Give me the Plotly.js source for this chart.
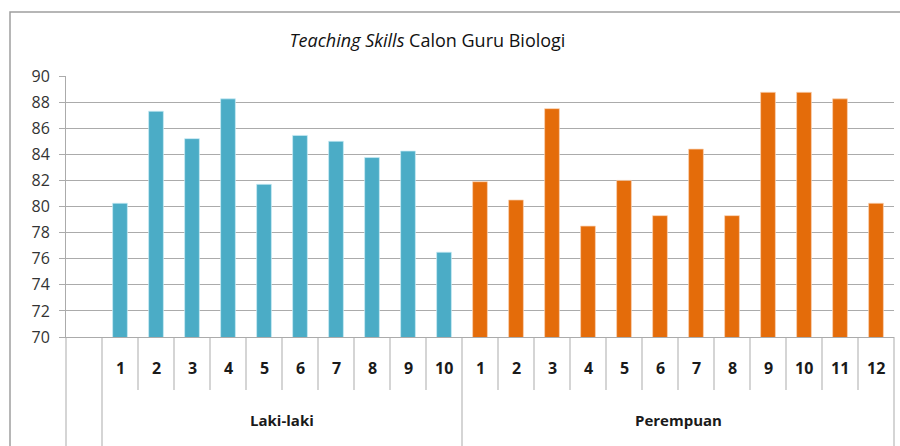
<!DOCTYPE html>
<html>
<head>
<meta charset="utf-8">
<script src="https://cdn.plot.ly/plotly-3.0.1.min.js"></script>
<style>
  html, body { margin: 0; padding: 0; background: #fff; }
  #chart { width: 900px; height: 446px; }
</style>
</head>
<body>
<div id="chart"></div>
<script>
// ---- Data ----
const groupNames = ["Laki-laki", "Perempuan"];
const maleLabels = ["1", "2", "3", "4", "5", "6", "7", "8", "9", "10"];
const femaleLabels = ["1", "2", "3", "4", "5", "6", "7", "8", "9", "10", "11", "12"];
const maleValues = [80.25, 87.3, 85.2, 88.25, 81.7, 85.45, 85.0, 83.75, 84.25, 76.5];
const femaleValues = [81.9, 80.5, 87.5, 78.5, 82.0, 79.3, 84.4, 79.3, 88.75, 88.75, 88.25, 80.25];
const yTicks = [70, 72, 74, 76, 78, 80, 82, 84, 86, 88, 90];
const titleText = "<i>Teaching Skills</i> Calon Guru Biologi";

// ---- Layout helpers ----
const FONT = "Open Sans, Noto Sans, sans-serif";
const blue = "#4BACC6";
const orange = "#E46C0A";
const lineGray = "#ABABAB";

// one leading empty category, then each group
const offsetMale = 1;
const offsetFemale = offsetMale + maleLabels.length;
const nCats = offsetFemale + femaleLabels.length;

const maleX = maleLabels.map((_, i) => offsetMale + i);
const femaleX = femaleLabels.map((_, i) => offsetFemale + i);

const traces = [
  {
    type: "bar", x: maleX, y: maleValues, name: groupNames[0],
    marker: { color: blue, line: { color: "rgba(200,235,245,0.9)", width: 0.8 } },
    hoverinfo: "y"
  },
  {
    type: "bar", x: femaleX, y: femaleValues, name: groupNames[1],
    marker: { color: orange, line: { color: "rgba(250,210,180,0.9)", width: 0.8 } },
    hoverinfo: "y"
  }
];

// pixel geometry of plot area
const L = 66, R = 6, T = 76, B = 109, H = 446, W = 900;
const plotH = H - T - B;
const plotW = W - L - R;
const py = p => (H - B - p) / plotH;      // pixel y -> paper y
const px = p => (p - L) / plotW;          // pixel x -> paper x

const innerBottom = py(390);
const outerBottom = py(452);

const shapes = [];
// frame
shapes.push({ type: "rect", xref: "paper", yref: "paper",
  x0: px(10), x1: px(910), y0: py(460), y1: py(12),
  line: { color: "#9E9E9E", width: 1.5 }, layer: "below" });

const outerBounds = [0, offsetMale, offsetFemale, nCats];
for (let k = 0; k <= nCats; k++) {
  const xp = k / nCats;
  const isOuter = outerBounds.includes(k);
  shapes.push({ type: "line", xref: "paper", yref: "paper",
    x0: xp, x1: xp, y0: 0, y1: isOuter ? outerBottom : innerBottom,
    line: { color: lineGray, width: 1 } });
}

const annotations = [];
const numFont = { family: FONT, size: 16, color: "#1a1a1a", weight: 700 };
maleLabels.forEach((t, i) => annotations.push({ xref: "x", yref: "paper", x: maleX[i], y: py(368),
  text: t, showarrow: false, font: numFont, xanchor: "center", yanchor: "middle" }));
femaleLabels.forEach((t, i) => annotations.push({ xref: "x", yref: "paper", x: femaleX[i], y: py(368),
  text: t, showarrow: false, font: numFont, xanchor: "center", yanchor: "middle" }));

const groupCenters = [
  (maleX[0] + maleX[maleX.length - 1]) / 2,
  (femaleX[0] + femaleX[femaleX.length - 1]) / 2
];
groupNames.forEach((g, i) => annotations.push({ xref: "x", yref: "paper", x: groupCenters[i], y: py(420),
  text: g, showarrow: false,
  font: { family: FONT, size: 15, color: "#1a1a1a", weight: 700 }, xanchor: "center", yanchor: "middle" }));

const layout = {
  width: W, height: H,
  margin: { l: L, r: R, t: T, b: B, pad: 0 },
  paper_bgcolor: "#fff", plot_bgcolor: "#fff",
  showlegend: false,
  bargap: 0.59,
  title: {
    text: titleText,
    font: { family: FONT, size: 18, color: "#111" },
    xref: "container", x: 0.475, xanchor: "center",
    yref: "container", y: 1 - 41 / H, yanchor: "middle"
  },
  xaxis: {
    type: "linear",
    range: [-0.5, nCats - 0.5],
    showgrid: false, zeroline: false,
    showticklabels: false, ticks: "",
    showline: true, linecolor: lineGray, linewidth: 1,
    fixedrange: true
  },
  yaxis: {
    range: [70, 90],
    tickvals: yTicks,
    ticktext: yTicks.map(String),
    showgrid: true, gridcolor: lineGray, gridwidth: 1,
    zeroline: false,
    showline: true, linecolor: lineGray, linewidth: 1,
    ticks: "outside", ticklen: 6, tickcolor: lineGray, tickwidth: 1,
    ticklabelstandoff: 6,
    tickfont: { family: FONT, size: 16, color: "#333" },
    fixedrange: true
  },
  shapes: shapes,
  annotations: annotations
};

Plotly.newPlot("chart", traces, layout, { displayModeBar: false, staticPlot: true });
</script>
</body>
</html>
